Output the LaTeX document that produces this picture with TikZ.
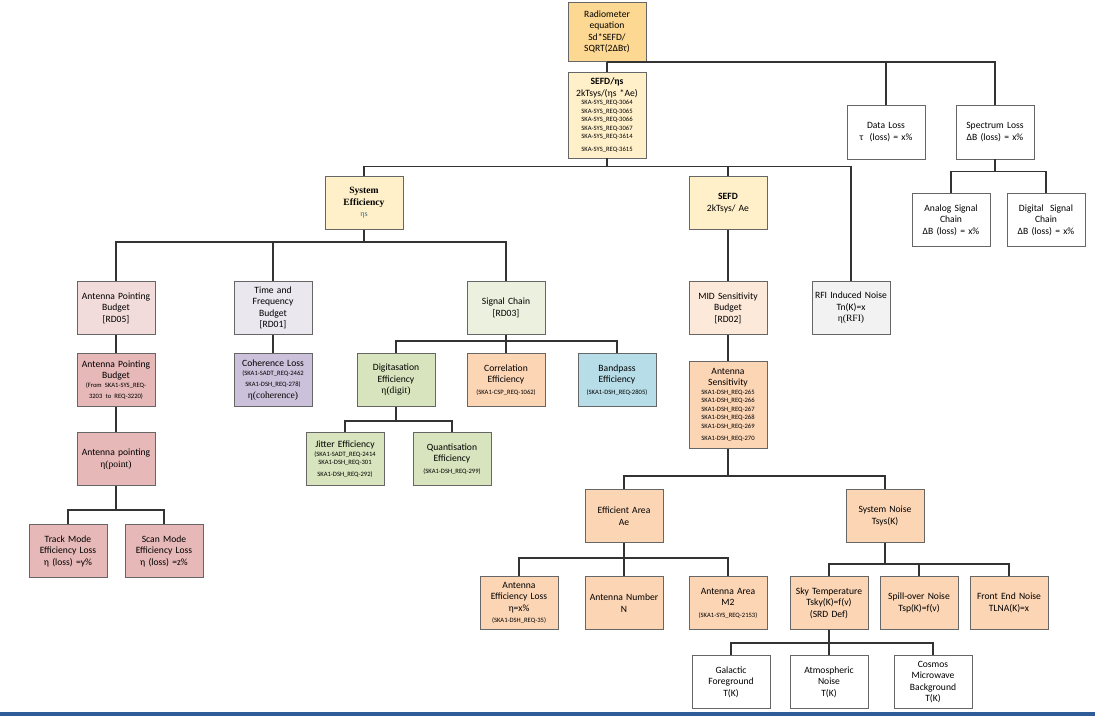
\documentclass[tikz,border=0pt]{standalone}
\usepackage{fontspec}
\setmainfont{Carlito}
\newfontfamily\timesf{Liberation Serif}
\usepackage{xcolor}
\usepackage{tikz}
\usetikzlibrary{calc, positioning}

\definecolor{goldbox}{HTML}{FCD893}
\definecolor{creambox}{HTML}{FFF0CA}
\definecolor{greybox}{HTML}{F2F2F2}
\definecolor{pinkbox}{HTML}{F2DCDB}
\definecolor{rosebox}{HTML}{E6B9B8}
\definecolor{lavlight}{HTML}{EAE7EF}
\definecolor{lavbox}{HTML}{CCC1DA}
\definecolor{greenlight}{HTML}{EBF1DE}
\definecolor{greenbox}{HTML}{D7E4BD}
\definecolor{peachlight}{HTML}{FDE9D9}
\definecolor{peachbox}{HTML}{FCD5B5}
\definecolor{bluebox}{HTML}{B7DDE8}
\definecolor{etateal}{HTML}{2E6B8A}
\definecolor{barblue}{HTML}{2E5C99}

\newcommand{\mainfs}{\fontsize{9.6}{11.5}\selectfont}
\newcommand{\reqfs}{\fontsize{6.6}{8.5}\selectfont}

\tikzset{
    cell/.style={draw=black!60, line width=0.9pt, minimum width=78pt, minimum height=53pt,
                 text width=77pt, align=center, inner sep=0.5pt, font=\mainfs},
    conn/.style={draw=black!80, line width=1.4pt}
}

\begin{document}
\begin{tikzpicture}[x=1pt, y=-1pt]

    % =================================================================
    % 1. NEN VA KHUNG
    % =================================================================
    \useasboundingbox (0,0) rectangle (1095,716);
    \fill[white] (0,0) rectangle (1095,716);
    \fill[barblue] (0,712) rectangle (1095,716);

    % =================================================================
    % 2. HAI TANG TREN CUNG
    % =================================================================
    \node[cell, fill=goldbox, minimum height=59pt] (rad) at (607,32)
        {Radiometer\\ equation\\ Sd*SEFD/\\ SQRT(2ΔBτ)};
    \node[cell, fill=creambox, minimum height=86pt] (sefdeta) at (607,115)
        {\textbf{SEFD/ηs}\\ 2kTsys/(ηs *Ae)\\
         {\reqfs SKA-SYS\_REQ-3064\\ SKA-SYS\_REQ-3065\\ SKA-SYS\_REQ-3066\\
          SKA-SYS\_REQ-3067\\ SKA-SYS\_REQ-3614\\[1pt] SKA-SYS\_REQ-3615}};

    \node[cell, fill=white, minimum height=54pt] (datal) at (886,132)
        {Data Loss\\ τ\ \ (loss) = x\%};
    \node[cell, fill=white, minimum height=54pt] (specl) at (995,132)
        {Spectrum Loss\\ ΔB (loss) = x\%};
    \node[cell, fill=white] (analog) at (951,220)
        {Analog Signal\\ Chain\\ ΔB (loss) = x\%};
    \node[cell, fill=white] (digital) at (1046,220)
        {Digital\ \ Signal\\ Chain\\ ΔB (loss) = x\%};

    % =================================================================
    % 3. HIEU SUAT HE THONG VA SEFD
    % =================================================================
    \node[cell, fill=creambox] (syseff) at (364,203)
        {{\timesf\bfseries System\\ Efficiency}\\ {\timesf\fontsize{8}{10}\selectfont\color{etateal}ηs}};
    \node[cell, fill=creambox] (sefd) at (728,203)
        {\textbf{SEFD}\\ 2kTsys/ Ae};
    \node[cell, fill=greybox] (rfi) at (851,308)
        {RFI Induced Noise\\ Tn(K)=x\\ {\timesf η(RFI)}};

    \node[cell, fill=pinkbox] (apb) at (116,308)
        {Antenna Pointing\\ Budget\\ {[RD05]}};
    \node[cell, fill=lavlight] (tfb) at (273,308)
        {Time and\\ Frequency\\ Budget\\ {[RD01]}};
    \node[cell, fill=greenlight] (sigc) at (506,308)
        {Signal Chain\\ {[RD03]}};
    \node[cell, fill=peachlight] (mid) at (728,308)
        {MID Sensitivity\\ Budget\\ {[RD02]}};

    % =================================================================
    % 4. NHANH TRAI: CHI HUONG ANTEN, KET HOP, CHUOI TIN HIEU
    % =================================================================
    \node[cell, fill=rosebox] (apb2) at (116,380)
        {Antenna Pointing\\ Budget\\ {\reqfs (From SKA1-SYS\_REQ-\\ 3203 to REQ-3220)}};
    \node[cell, fill=rosebox] (apnt) at (116,459)
        {Antenna pointing\\ {\timesf η(point)}};
    \node[cell, fill=rosebox] (track) at (68,551)
        {Track Mode\\ Efficiency Loss\\ η (loss) =y\%};
    \node[cell, fill=rosebox] (scan) at (164,551)
        {Scan Mode\\ Efficiency Loss\\ η (loss) =z\%};

    \node[cell, fill=lavbox] (coh) at (273,380)
        {Coherence Loss\\ {\reqfs (SKA1-SADT\_REQ-2462\\ SKA1-DSH\_REQ-278)}\\ {\timesf η(coherence)}};

    \node[cell, fill=greenbox] (digit) at (396,380)
        {Digitasation\\ Efficiency\\ {\timesf η(digit)}};
    \node[cell, fill=peachbox] (corr) at (506,380)
        {Correlation\\ Efficiency\\ {\reqfs (SKA1-CSP\_REQ-1062)}};
    \node[cell, fill=bluebox] (bandp) at (617,380)
        {Bandpass\\ Efficiency\\ {\reqfs (SKA1-DSH\_REQ-2805)}};
    \node[cell, fill=greenbox] (jitter) at (345,459)
        {Jitter Efficiency\\ {\reqfs (SKA1-SADT\_REQ-2414\\ SKA1-DSH\_REQ-301\\ SKA1-DSH\_REQ-292)}};
    \node[cell, fill=greenbox] (quant) at (452,459)
        {Quantisation\\ Efficiency\\ {\reqfs (SKA1-DSH\_REQ-299)}};

    % =================================================================
    % 5. NHANH PHAI: DO NHAY ANTEN
    % =================================================================
    \node[cell, fill=peachbox, minimum height=87pt] (antsens) at (728,405)
        {Antenna\\ Sensitivity\\
         {\reqfs SKA1-DSH\_REQ-265\\ SKA1-DSH\_REQ-266\\ SKA1-DSH\_REQ-267\\
          SKA1-DSH\_REQ-268\\ SKA1-DSH\_REQ-269\\[1pt] SKA1-DSH\_REQ-270}};
    \node[cell, fill=peachbox] (effarea) at (624,516)
        {Efficient Area\\ Ae};
    \node[cell, fill=peachbox] (sysnoise) at (885,516)
        {System Noise\\ Tsys(K)};

    \node[cell, fill=peachbox] (anteff) at (519,603)
        {Antenna\\ Efficiency Loss\\ η=x\%\\ {\reqfs (SKA1-DSH\_REQ-35)}};
    \node[cell, fill=peachbox] (antnum) at (624,603)
        {Antenna Number\\ N};
    \node[cell, fill=peachbox] (antarea) at (728,603)
        {Antenna Area\\ M2\\ {\reqfs (SKA1-SYS\_REQ-2153)}};

    \node[cell, fill=peachbox] (skyt) at (829,603)
        {Sky Temperature\\ Tsky(K)=f(v)\\ (SRD Def)};
    \node[cell, fill=peachbox] (spill) at (919,603)
        {Spill-over Noise\\ Tsp(K)=f(v)};
    \node[cell, fill=peachbox] (fend) at (1009,603)
        {Front End Noise\\ TLNA(K)=x};

    \node[cell, fill=white] (galf) at (731,682)
        {Galactic\\ Foreground\\ T(K)};
    \node[cell, fill=white] (atmos) at (829,682)
        {Atmospheric\\ Noise\\ T(K)};
    \node[cell, fill=white] (cmb) at (933,682)
        {Cosmos\\ Microwave\\ Background\\ T(K)};

    % =================================================================
    % 6. DUONG NOI GIUA CAC HOP
    % =================================================================
    \draw[conn] (rad) -- (sefdeta);
    \draw[conn] (rad.south) -| (datal.north);
    \draw[conn] (rad.south) -| (specl.north);
    \draw[conn] (specl.south) -- ++(0,12) -| (analog.north);
    \draw[conn] (specl.south) -- ++(0,12) -| (digital.north);

    \draw[conn] (sefdeta.south) -- ++(0,8) -| (syseff.north);
    \draw[conn] (sefdeta.south) -- ++(0,8) -| (sefd.north);
    \draw[conn] (sefdeta.south) -- ++(0,8) -| (rfi.north);

    \draw[conn] (syseff.south) -- ++(0,12) -| (apb.north);
    \draw[conn] (syseff.south) -- ++(0,12) -| (tfb.north);
    \draw[conn] (syseff.south) -- ++(0,12) -| (sigc.north);
    \draw[conn] (sefd) -- (mid);

    \draw[conn] (apb) -- (apb2);
    \draw[conn] (apb2) -- (apnt);
    \draw[conn] (apnt.south) -- ++(0,24) -| (track.north);
    \draw[conn] (apnt.south) -- ++(0,24) -| (scan.north);
    \draw[conn] (tfb) -- (coh);

    \draw[conn] (sigc.south) -- ++(0,6) -| (digit.north);
    \draw[conn] (sigc.south) -- ++(0,6) -| (corr.north);
    \draw[conn] (sigc.south) -- ++(0,6) -| (bandp.north);
    \draw[conn] (digit.south) -- ++(0,14) -| (jitter.north);
    \draw[conn] (digit.south) -- ++(0,14) -| (quant.north);

    \draw[conn] (mid) -- (antsens);
    \draw[conn] (antsens.south) -- ++(0,27) -| (effarea.north);
    \draw[conn] (antsens.south) -- ++(0,27) -| (sysnoise.north);
    \draw[conn] (effarea.south) -- ++(0,15) -| (anteff.north);
    \draw[conn] (effarea) -- (antnum);
    \draw[conn] (effarea.south) -- ++(0,15) -| (antarea.north);
    \draw[conn] (sysnoise.south) -- ++(0,21) -| (skyt.north);
    \draw[conn] (sysnoise.south) -- ++(0,21) -| (spill.north);
    \draw[conn] (sysnoise.south) -- ++(0,21) -| (fend.north);
    \draw[conn] (skyt.south) -- ++(0,13) -| (galf.north);
    \draw[conn] (skyt) -- (atmos);
    \draw[conn] (skyt.south) -- ++(0,13) -| (cmb.north);

\end{tikzpicture}
\end{document}
